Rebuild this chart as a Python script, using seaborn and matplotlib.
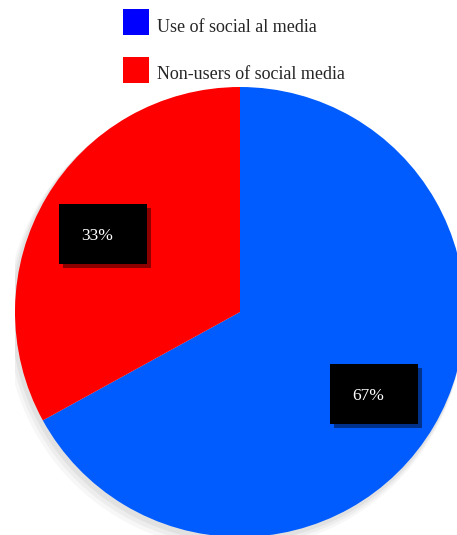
import matplotlib.pyplot as plt
import seaborn as sns
from matplotlib.patches import Rectangle, Circle
from matplotlib.lines import Line2D

# data
labels = ['Use of social al media', 'Non-users of social media']
shares = [67, 33]
pie_colors = ['#005cff', '#ff0000']
legend_colors = ['#0000ff', '#ff0000']

sns.set_theme(style='white')
plt.rcParams['font.family'] = ['Liberation Serif', 'DejaVu Serif']

W, H = 457, 535
fig = plt.figure(figsize=(W / 100, H / 100), dpi=100)
cx, cy, R = 240, 312, 225  # pie centre / radius in pixels
ax = fig.add_axes([(cx - R) / W, (H - cy - R) / H, 2 * R / W, 2 * R / H])

# soft grey shadow behind the pie
for off, a in [(0.04, 0.06), (0.028, 0.08), (0.016, 0.10)]:
    ax.add_patch(Circle((-off * 0.6, -off), 1 + off * 0.4, color='gray', alpha=a, lw=0, zorder=0))

wedges, texts, autotexts = ax.pie(
    shares, colors=pie_colors, startangle=90, counterclock=False,
    autopct='%d%%', pctdistance=0.7,
    textprops=dict(color='white', fontsize=12.5),
    wedgeprops=dict(linewidth=0, zorder=1))

# black label boxes with a little drop shadow
bw, bh = 88 / R, 60 / R
for t in autotexts:
    x, y = t.get_position()
    x, y = x - 7.5 / R, y - 4 / R
    t.set_position((x, y))
    x0, y0 = x + 6 / R - bw / 2, y + 2 / R - bh / 2
    ax.add_patch(Rectangle((x0 + 4 / R, y0 - 4 / R), bw, bh, color='black', alpha=0.45, lw=0, zorder=3))
    ax.add_patch(Rectangle((x0, y0), bw, bh, color='black', lw=0, zorder=4))
    t.set_zorder(5)

ax.set_xlim(-1, 1)
ax.set_ylim(-1, 1)
ax.axis('off')

handles = [Line2D([], [], linestyle='none', marker='s', markersize=18.7,
                  markerfacecolor=c, markeredgewidth=0, label=l)
           for c, l in zip(legend_colors, labels)]
fig.legend(handles=handles, loc='upper left', bbox_to_anchor=(123 / W, 1 - 13 / H),
           frameon=False, fontsize=13, handlelength=1.44, handleheight=1.8,
           handletextpad=0.44, labelspacing=1.2, borderpad=0, borderaxespad=0)

fig.savefig('out.png', dpi=100)
